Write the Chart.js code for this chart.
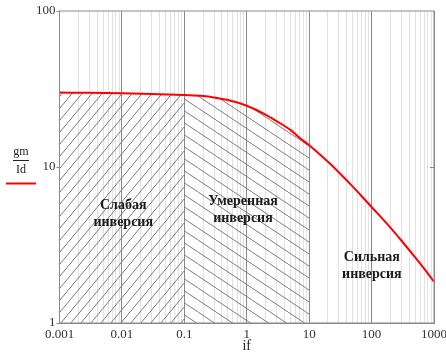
<!DOCTYPE html>
<html>
<head>
<meta charset="utf-8">
<script src="https://cdn.jsdelivr.net/npm/chart.js@4.4.1/dist/chart.umd.min.js"></script>
<style>
html,body{margin:0;padding:0;background:#fff;}
#wrap{width:446px;height:355px;position:relative;}
</style>
</head>
<body>
<div id="wrap"><canvas id="c" width="446" height="355"></canvas></div>
<script>
// ---- data ----
const ifValues = [0.001, 0.003, 0.01, 0.03, 0.1, 0.2, 0.3, 0.5, 1, 2, 3, 5, 7, 10, 20, 30, 50, 70, 100, 200, 300, 500, 700, 1000];
const gmIdValues = [30.0, 29.9, 29.7, 29.4, 28.9, 28.5, 27.9, 26.85, 24.7, 21.7, 19.7, 17.3, 15.4, 13.8, 10.8, 9.23, 7.49, 6.47, 5.54, 4.09, 3.38, 2.63, 2.22, 1.84];
const xTickLabels = ['0.001', '0.01', '0.1', '1', '10', '100', '1000'];
const yTickLabels = ['1', '10', '100'];
const regionNames = [['Слабая', 'инверсия'], ['Умеренная', 'инверсия'], ['Сильная', 'инверсия']];
const regionLabelAt = [[0.0105, 5.7], [0.87, 6.06], [101, 2.65]];
const weakRange = [0.001, 0.1];
const moderateRange = [0.1, 10];

const xMajor = xTickLabels.map(Number);
const yMajor = yTickLabels.map(Number);
const xAllTicks = [];
for (let i = 0; i < xMajor.length; i++) {
  const m = xMajor[i];
  xAllTicks.push(m);
  if (i < xMajor.length - 1) for (let k = 2; k <= 9; k++) xAllTicks.push(+(m * k).toPrecision(6));
}
const curve = ifValues.map((x, i) => ({x, y: gmIdValues[i]}));
const sub = (r) => curve.filter(p => p.x >= r[0] - 1e-12 && p.x <= r[1] + 1e-12);
const isMajor = v => Math.abs(Math.log10(v) - Math.round(Math.log10(v))) < 1e-6;

function hatch(w, h, dir) {
  const c = document.createElement('canvas');
  c.width = w; c.height = h;
  const g = c.getContext('2d');
  g.strokeStyle = '#6e6e6e';
  g.lineWidth = 0.9;
  g.beginPath();
  if (dir > 0) {
    for (let o = -1; o <= 1; o++) { g.moveTo(o * w, h); g.lineTo(o * w + w, 0); }
  } else {
    for (let o = -1; o <= 1; o++) { g.moveTo(o * w, 0); g.lineTo(o * w + w, h); }
  }
  g.stroke();
  return g.createPattern(c, 'repeat');
}

const serif = '"Liberation Serif","DejaVu Serif",serif';

const decor = {
  id: 'decor',
  afterDatasetsDraw(chart) {
    const {ctx, chartArea: a, scales} = chart;
    ctx.save();
    ctx.strokeStyle = '#8a8a8a';
    ctx.lineWidth = 1;
    ctx.strokeRect(a.left, a.top, a.right - a.left, a.bottom - a.top);
    // right-side tick at 10
    ctx.beginPath();
    const y10 = Math.round(scales.y.getPixelForValue(10)) + 0.5;
    ctx.moveTo(a.right - 4, y10); ctx.lineTo(a.right, y10);
    ctx.stroke();
    // region labels
    ctx.fillStyle = '#1a1a1a';
    ctx.font = 'bold 14px ' + serif;
    ctx.textAlign = 'center';
    ctx.textBaseline = 'middle';
    regionNames.forEach((lines, i) => {
      const px = scales.x.getPixelForValue(regionLabelAt[i][0]);
      const py = scales.y.getPixelForValue(regionLabelAt[i][1]);
      lines.forEach((t, j) => ctx.fillText(t, px, py + j * 17));
    });
    // y title as fraction
    ctx.font = '12px ' + serif;
    ctx.fillStyle = '#222';
    ctx.fillText('gm', 21, 152);
    ctx.fillText('Id', 21, 170);
    ctx.strokeStyle = '#222';
    ctx.beginPath(); ctx.moveTo(13, 160.5); ctx.lineTo(29, 160.5); ctx.stroke();
    ctx.strokeStyle = '#ff0000';
    ctx.lineWidth = 2;
    ctx.beginPath(); ctx.moveTo(6, 183.5); ctx.lineTo(36, 183.5); ctx.stroke();
    ctx.restore();
  }
};

new Chart(document.getElementById('c'), {
  type: 'line',
  data: {
    datasets: [
      {data: curve, borderColor: '#ff0000', borderWidth: 2, pointRadius: 0, fill: false,
       cubicInterpolationMode: 'monotone', order: 0},
      {data: sub(weakRange), borderWidth: 0, borderColor: 'rgba(0,0,0,0)', pointRadius: 0,
       backgroundColor: hatch(10, 12, 1), fill: 'start', cubicInterpolationMode: 'monotone', order: 1},
      {data: sub(moderateRange), borderWidth: 0, borderColor: 'rgba(0,0,0,0)', pointRadius: 0,
       backgroundColor: hatch(18, 12, -1), fill: 'start', cubicInterpolationMode: 'monotone', order: 2}
    ]
  },
  options: {
    responsive: false,
    animation: false,
    events: [],
    layout: {padding: {top: 11, right: 12, left: 0, bottom: 0}},
    plugins: {legend: {display: false}, tooltip: {enabled: false}},
    scales: {
      x: {
        type: 'logarithmic', min: 0.001, max: 1000,
        afterBuildTicks: s => { s.ticks = xAllTicks.map(v => ({value: v, major: isMajor(v)})); },
        afterFit: s => { s.height = 32; s.paddingRight = 0; s.paddingLeft = 0; },
        grid: {
          color: c => (c.tick && isMajor(c.tick.value)) ? '#8a8a8a' : '#e2e2e2',
          lineWidth: 1, drawTicks: false
        },
        border: {color: '#8a8a8a'},
        ticks: {
          autoSkip: false, maxRotation: 0, padding: 4, color: '#333',
          font: {family: serif, size: 13},
          callback: (v) => { const i = xMajor.findIndex(m => Math.abs(m - v) / m < 1e-6); return i >= 0 ? xTickLabels[i] : ''; }
        },
        title: {display: true, text: 'if', color: '#222', font: {family: serif, size: 14}, padding: {top: 2, bottom: 0}}
      },
      y: {
        type: 'logarithmic', min: 1, max: 100,
        afterBuildTicks: s => { s.ticks = yMajor.map(v => ({value: v, major: true})); },
        afterFit: s => { s.width = 59.5; },
        grid: {drawOnChartArea: false, drawTicks: true, tickLength: 3, color: '#8a8a8a'},
        border: {color: '#8a8a8a'},
        ticks: {
          autoSkip: false, padding: 1, color: '#333',
          font: {family: serif, size: 13},
          callback: (v) => { const i = yMajor.findIndex(m => Math.abs(m - v) / m < 1e-6); return i >= 0 ? yTickLabels[i] : ''; }
        }
      }
    }
  },
  plugins: [decor]
});
</script>
</body>
</html>
